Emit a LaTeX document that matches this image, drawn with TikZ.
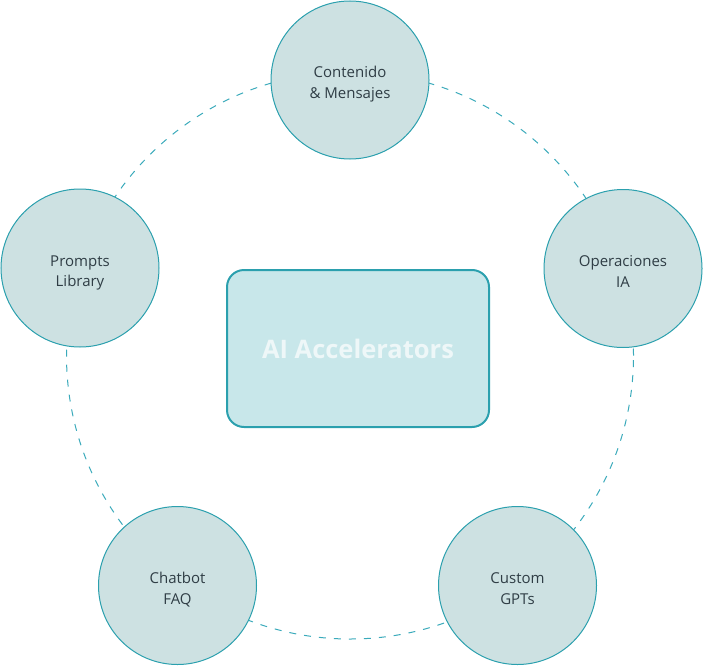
\documentclass[tikz,border=0pt]{standalone}
\usepackage{fontspec}
\setmainfont{Open Sans}
\definecolor{ringteal}{HTML}{2BA0AE}
\definecolor{dashteal}{HTML}{3AAABB}
\definecolor{topicfill}{HTML}{CDE1E2}
\definecolor{topictext}{HTML}{2F3D45}
\definecolor{hubfill}{HTML}{C8E7EA}
\definecolor{hubtext}{HTML}{EEF7F8}

\begin{document}
\begin{tikzpicture}[x=1pt,y=-1pt,
    topic/.style={draw=ringteal, fill=topicfill, circle, line width=1pt,
        minimum size=158pt, inner sep=0pt, align=center, text=topictext,
        text height=37pt, text depth=0pt,
        font=\fontsize{15}{20.5}\selectfont},
    hub/.style={draw=ringteal, fill=hubfill, rounded corners=17pt, line width=2pt,
        minimum width=262pt, minimum height=157pt, text=hubtext,
        font=\fontsize{25.5}{30}\selectfont\bfseries}]
    \useasboundingbox (0,0) rectangle (703,666);
    % ring behind the topics
    \coordinate (O) at (350,355.5);
    \draw[dashteal, line width=1pt, dash pattern=on 7pt off 8pt] (O) circle[radius=283.5pt];

    \node [hub] (hub) at (358,348.5) {AI Accelerators};

    \node [topic] (cont) at (350,80) {Contenido\\\& Mensajes};
    \node [topic] (ops) at (623,268.5) {Operaciones\\IA};
    \node [topic] (gpts) at (517.5,585.5) {Custom\\GPTs};
    \node [topic] (faq) at (177.5,585.5) {Chatbot\\FAQ};
    \node [topic] (lib) at (80,268) {Prompts\\Library};
\end{tikzpicture}
\end{document}
